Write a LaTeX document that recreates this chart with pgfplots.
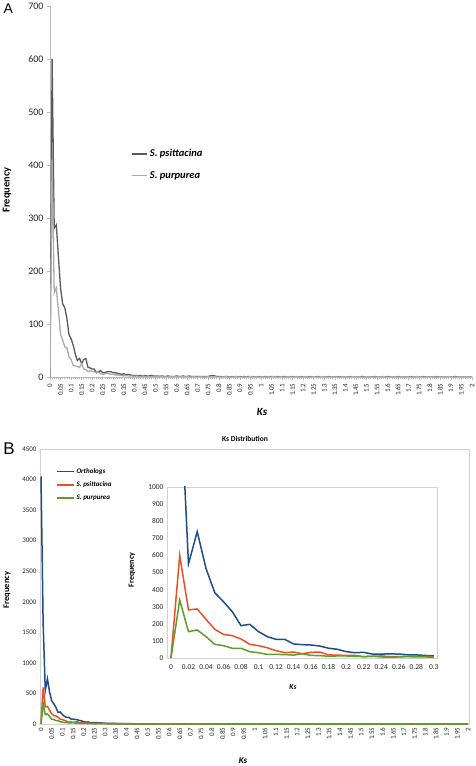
\documentclass[border=0pt]{standalone}
\usepackage{pgfplots}
\pgfplotsset{compat=1.18}
\usepackage{pgfplotstable}
\usepackage{fontspec}
\setmainfont{Carlito}
\newfontfamily\arialfont{Liberation Sans}
\definecolor{ortho}{HTML}{1F4E84}
\definecolor{psit}{HTML}{EE5025}
\definecolor{purp}{HTML}{5E9C2C}
\definecolor{darkg}{HTML}{5A5A5A}
\definecolor{lightg}{HTML}{ABABAB}
\pgfplotstableread{
ks ort psi pur purA
0.00 4050 0 0 0
0.01 1650 600 339 410
0.02 550 281 154 159
0.03 739 287 164 168
0.04 524 226 125 125
0.05 382 168 80 80
0.06 329 138 72 70
0.07 271 131 57 57
0.08 189 111 57 55
0.09 197 80 37 38
0.10 154 72 31 33
0.11 125 60 21 22
0.12 109 43 21 21
0.13 109 31 20 20
0.14 82 35 17 18
0.15 78 25 25 25
0.16 76 33 15 15
0.17 70 35 14 14
0.18 57 18 10 10
0.19 51 17 12 12
0.20 37 15 12 11
0.21 31 15 10 10
0.22 33 8 8 8
0.23 23 10 10 9
0.24 23 12 6 6
0.25 24 8 5 5
0.26 23 8 6 6
0.27 19 10 8 7
0.28 18 10 6 6
0.29 15 10 6 5
0.30 12 8 5 5
0.31 12 8 4 4
0.32 10 7 4 4
0.33 10 6 3 3
0.34 9 5 3 3
0.35 8 6 2 2
0.36 8 4 3 3
0.37 7 5 2 2
0.38 6 4 2 2
0.39 6 3 2 2
0.40 5 3 1 1
0.41 5 3 2 2
0.42 5 2 1 1
0.43 4 3 1 1
0.44 4 2 2 2
0.45 4 3 1 1
0.46 3 2 1 1
0.47 4 2 1 1
0.48 3 3 1 1
0.49 3 2 1 1
0.50 3 2 2 2
0.51 2 2 1 1
0.52 2 1 1 1
0.53 2 2 0 0
0.54 2 1 1 1
0.55 1 1 1 1
0.56 2 2 0 0
0.57 1 1 1 1
0.58 1 1 0 0
0.59 1 1 1 1
0.60 1 2 0 0
0.61 1 1 1 1
0.62 1 1 0 0
0.63 1 2 1 1
0.64 1 1 0 0
0.65 1 1 1 1
0.66 1 2 0 0
0.67 0 1 0 0
0.68 1 1 1 1
0.69 0 1 0 0
0.70 1 1 0 0
0.71 0 1 1 1
0.72 1 1 0 0
0.73 0 1 0 0
0.74 1 1 0 0
0.75 0 1 1 1
0.76 1 2 0 0
0.77 0 3 0 0
0.78 1 2 1 1
0.79 0 1 0 0
0.80 0 1 0 0
0.81 0 1 0 0
0.82 1 0 0 0
0.83 0 1 1 1
0.84 0 1 0 0
0.85 0 0 0 0
0.86 1 1 0 0
0.87 0 0 0 0
0.88 0 1 1 1
0.89 0 0 0 0
0.90 0 1 0 0
0.91 0 0 0 0
0.92 1 1 0 0
0.93 0 0 0 0
0.94 0 1 0 0
0.95 0 0 1 1
0.96 0 1 0 0
0.97 0 0 0 0
0.98 0 0 0 0
0.99 1 1 0 0
1.00 0 0 0 0
1.01 0 0 0 0
1.02 0 1 0 0
1.03 0 0 0 0
1.04 1 0 0 0
1.05 0 1 0 0
1.06 0 0 1 1
1.07 0 0 0 0
1.08 0 1 0 0
1.09 0 0 0 0
1.10 0 0 0 0
1.11 0 1 0 0
1.12 0 0 0 0
1.13 0 0 0 0
1.14 1 0 0 0
1.15 0 1 0 0
1.16 0 0 0 0
1.17 0 0 1 1
1.18 0 0 0 0
1.19 0 1 0 0
1.20 0 0 0 0
1.21 0 0 0 0
1.22 0 0 0 0
1.23 0 1 0 0
1.24 0 0 0 0
1.25 1 0 0 0
1.26 0 0 0 0
1.27 0 1 0 0
1.28 0 0 0 0
1.29 0 0 1 1
1.30 0 0 0 0
1.31 0 0 0 0
1.32 0 1 0 0
1.33 0 0 0 0
1.34 0 0 0 0
1.35 0 0 0 0
1.36 1 0 0 0
1.37 0 1 0 0
1.38 0 0 0 0
1.39 0 0 0 0
1.40 0 0 0 0
1.41 0 0 0 0
1.42 0 1 0 0
1.43 0 0 0 0
1.44 0 0 1 1
1.45 0 0 0 0
1.46 0 0 0 0
1.47 0 0 0 0
1.48 0 1 0 0
1.49 0 0 0 0
1.50 0 0 0 0
1.51 1 0 0 0
1.52 0 0 0 0
1.53 0 0 0 0
1.54 0 1 0 0
1.55 0 0 0 0
1.56 0 0 0 0
1.57 0 0 0 0
1.58 0 0 1 1
1.59 0 0 0 0
1.60 0 1 0 0
1.61 0 0 0 0
1.62 0 0 0 0
1.63 0 0 0 0
1.64 0 0 0 0
1.65 0 1 0 0
1.66 0 0 0 0
1.67 1 0 0 0
1.68 0 0 0 0
1.69 0 0 0 0
1.70 0 0 0 0
1.71 0 1 0 0
1.72 0 0 0 0
1.73 0 0 0 0
1.74 0 0 1 1
1.75 0 0 0 0
1.76 0 0 0 0
1.77 0 1 0 0
1.78 0 0 0 0
1.79 0 0 0 0
1.80 0 0 0 0
1.81 0 0 0 0
1.82 0 0 0 0
1.83 0 1 0 0
1.84 0 0 0 0
1.85 0 0 0 0
1.86 0 0 0 0
1.87 0 0 0 0
1.88 0 0 0 0
1.89 0 0 1 1
1.90 0 0 0 0
1.91 0 0 0 0
1.92 0 1 0 0
1.93 0 0 0 0
1.94 0 0 0 0
1.95 0 0 0 0
1.96 0 0 0 0
1.97 0 0 0 0
1.98 0 0 0 0
1.99 0 0 0 0
2.00 0 0 0 0
}\ksdata
\begin{document}
\begin{tikzpicture}[x=1pt,y=1pt]
\path[use as bounding box] (0,0) rectangle (475,766);
% ---------------- Panel A ----------------
\begin{axis}[
  at={(50pt,389pt)}, anchor=south west,
  scale only axis, width=422pt, height=371pt,
  xmin=0, xmax=2, ymin=0, ymax=700,
  axis x line=bottom, axis y line=left,
  axis line style={-, gray!55, line width=0.8pt},
  ytick={0,100,...,700},
  xtick={0,0.05,0.1,0.15,0.2,0.25,0.3,0.35,0.4,0.45,0.5,0.55,0.6,0.65,0.7,0.75,0.8,0.85,0.9,0.95,1,1.05,1.1,1.15,1.2,1.25,1.3,1.35,1.4,1.45,1.5,1.55,1.6,1.65,1.7,1.75,1.8,1.85,1.9,1.95,2},
  minor x tick num=4,
  tick align=outside, major tick length=3pt, minor tick length=2.5pt,
  tick style={gray!55, line width=0.6pt},
  /pgf/number format/assume math mode=true,
  /pgf/number format/1000 sep={},
  yticklabel style={font=\fontsize{10}{12}\selectfont, text=black!85},
  xticklabel style={rotate=90, anchor=east, font=\fontsize{7}{8}\selectfont, text=black!85,
    /pgf/number format/fixed, /pgf/number format/precision=2},
  legend style={at={(0.185,0.625)}, anchor=north west, draw=none, fill=none,
    font=\fontsize{10.5}{12}\selectfont\bfseries\itshape, row sep=9pt},
  legend cell align=left,
  legend image code/.code={\draw[#1,line width=1.6pt] (0pt,0pt) -- (15pt,0pt);},
]
\addplot[darkg, line width=1.3pt] table[x=ks, y=psi] {\ksdata};
\addlegendentry{S. psittacina}
\addplot[lightg, line width=1.3pt] table[x=ks, y=purA] {\ksdata};
\addlegendentry{S. purpurea}
\end{axis}
\node[font=\fontsize{11}{13}\selectfont\bfseries\itshape] at (262,354) {Ks};
\node[font=\fontsize{10.5}{12}\selectfont\bfseries, rotate=90] at (7,576) {Frequency};
\node[font=\arialfont\fontsize{14}{16}\selectfont, anchor=north west] at (0,766) {A};
% ---------------- Panel B ----------------
\begin{axis}[
  at={(40pt,42pt)}, anchor=south west,
  scale only axis, width=429pt, height=275pt,
  xmin=-0.0047, xmax=2.0047, ymin=0, ymax=4500,
  axis line style={gray!35, line width=0.8pt},
  ytick={0,500,...,4500},
  xtick={0,0.05,0.1,0.15,0.2,0.25,0.3,0.35,0.4,0.45,0.5,0.55,0.6,0.65,0.7,0.75,0.8,0.85,0.9,0.95,1,1.05,1.1,1.15,1.2,1.25,1.3,1.35,1.4,1.45,1.5,1.55,1.6,1.65,1.7,1.75,1.8,1.85,1.9,1.95,2},
  major tick length=0pt,
  /pgf/number format/assume math mode=true,
  /pgf/number format/1000 sep={},
  yticklabel style={font=\fontsize{7}{8}\selectfont, text=black!85},
  xticklabel style={rotate=90, anchor=east, font=\fontsize{7}{8}\selectfont, text=black!85,
    /pgf/number format/fixed, /pgf/number format/precision=2},
  legend style={at={(0.03,0.945)}, anchor=north west, draw=none, fill=none,
    font=\fontsize{7}{8}\selectfont\bfseries\itshape, row sep=3pt},
  legend cell align=left,
  legend image code/.code={\draw[#1,line width=1.5pt] (0pt,0pt) -- (17pt,0pt);},
]
\addplot[ortho, line width=1.5pt] table[x=ks, y=ort] {\ksdata};
\addlegendentry{Orthologs}
\addplot[psit, line width=1.5pt] table[x=ks, y=psi] {\ksdata};
\addlegendentry{S. psittacina}
\addplot[purp, line width=1.5pt] table[x=ks, y=pur] {\ksdata};
\addlegendentry{S. purpurea}
\end{axis}
\node[font=\fontsize{7.5}{9}\selectfont\bfseries] at (245,327) {Ks Distribution};
\node[font=\fontsize{9}{11}\selectfont\bfseries\itshape] at (243,5) {Ks};
\node[font=\fontsize{8.5}{10}\selectfont\bfseries, rotate=90] at (7,176) {Frequency};
\node[font=\arialfont\fontsize{17}{19}\selectfont] at (9,317) {B};
% ---------------- Inset ----------------
\begin{axis}[
  at={(167pt,108pt)}, anchor=south west,
  scale only axis, width=270.7pt, height=171pt,
  xmin=-0.0045, xmax=0.3045, ymin=0, ymax=1000,
  axis background/.style={fill=white},
  axis line style={gray!35, line width=0.8pt},
  ytick={0,100,...,1000},
  xtick={0,0.02,0.04,0.06,0.08,0.1,0.12,0.14,0.16,0.18,0.2,0.22,0.24,0.26,0.28,0.3},
  major tick length=0pt,
  /pgf/number format/assume math mode=true,
  /pgf/number format/1000 sep={},
  yticklabel style={font=\fontsize{7.5}{8}\selectfont, text=black!85},
  xticklabel style={font=\fontsize{7.5}{8}\selectfont, text=black!85, yshift=-3pt,
    /pgf/number format/fixed, /pgf/number format/precision=2},
]
\addplot[ortho, line width=1.5pt, restrict x to domain=0:0.3001] table[x=ks, y=ort] {\ksdata};
\addplot[psit, line width=1.5pt, restrict x to domain=0:0.3001] table[x=ks, y=psi] {\ksdata};
\addplot[purp, line width=1.5pt, restrict x to domain=0:0.3001] table[x=ks, y=pur] {\ksdata};
\end{axis}
\node[font=\fontsize{7.5}{9}\selectfont\bfseries\itshape] at (293,79) {Ks};
\node[font=\fontsize{8}{10}\selectfont\bfseries, rotate=90] at (132,196) {Frequency};
\end{tikzpicture}
\end{document}
